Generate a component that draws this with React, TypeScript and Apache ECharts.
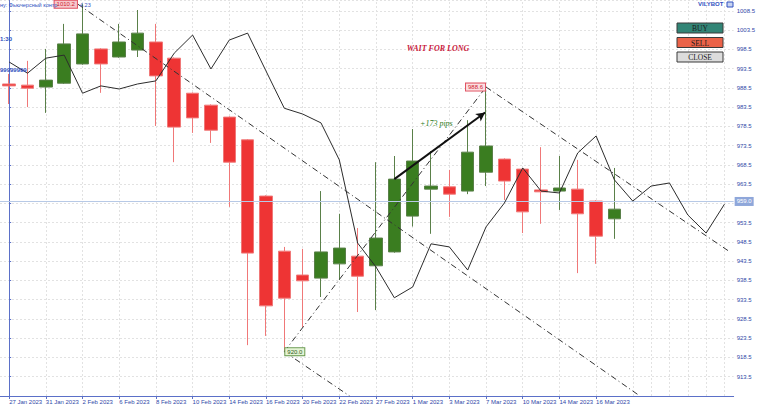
import React, { useEffect, useRef } from "react";
import * as echarts from "echarts";

// ---- data ----
const categories = [
  "27 Jan 2023", "30 Jan 2023", "31 Jan 2023", "1 Feb 2023", "2 Feb 2023", "3 Feb 2023",
  "6 Feb 2023", "7 Feb 2023", "8 Feb 2023", "9 Feb 2023", "10 Feb 2023", "13 Feb 2023",
  "14 Feb 2023", "15 Feb 2023", "16 Feb 2023", "17 Feb 2023", "20 Feb 2023", "21 Feb 2023",
  "22 Feb 2023", "24 Feb 2023", "27 Feb 2023", "28 Feb 2023", "1 Mar 2023", "2 Mar 2023",
  "3 Mar 2023", "6 Mar 2023", "7 Mar 2023", "9 Mar 2023", "10 Mar 2023", "13 Mar 2023",
  "14 Mar 2023", "15 Mar 2023", "16 Mar 2023", "17 Mar 2023",
  "20 Mar 2023", "21 Mar 2023", "22 Mar 2023", "23 Mar 2023", "24 Mar 2023", "27 Mar 2023",
];
const lastCandleIndex = 33;

// [open, close, low, high]
const candles = [
  [989.5, 989.0, 984.3, 992.1],
  [989.2, 988.4, 983.5, 995.5],
  [988.7, 990.5, 982.0, 998.6],
  [989.7, 999.9, 989.5, 1005.1],
  [994.7, 1002.5, 994.5, 1010.2],
  [998.6, 994.7, 987.2, 998.8],
  [996.5, 1000.4, 996.3, 1005.1],
  [998.3, 1002.7, 996.5, 1008.7],
  [1000.4, 991.6, 978.6, 1005.1],
  [996.2, 978.3, 969.2, 996.4],
  [987.1, 980.7, 976.8, 987.3],
  [984.0, 977.5, 974.2, 984.2],
  [980.9, 969.2, 957.6, 981.1],
  [975.0, 945.6, 921.7, 975.2],
  [960.4, 931.9, 924.1, 960.6],
  [946.1, 933.9, 920.0, 947.2],
  [939.9, 938.4, 926.4, 946.7],
  [939.1, 945.9, 934.2, 961.7],
  [942.8, 946.9, 938.6, 955.8],
  [944.8, 939.6, 930.3, 952.1],
  [942.3, 949.5, 930.8, 969.2],
  [945.9, 964.8, 945.7, 970.8],
  [955.2, 969.5, 952.5, 977.8],
  [962.2, 963.0, 950.6, 972.1],
  [962.8, 960.9, 955.0, 967.2],
  [961.7, 971.8, 960.9, 980.1],
  [966.6, 973.4, 963.0, 988.7],
  [970.0, 964.3, 959.4, 970.2],
  [967.4, 956.3, 950.8, 967.6],
  [962.0, 961.5, 953.2, 973.1],
  [961.7, 962.5, 956.8, 970.8],
  [962.2, 955.8, 940.4, 969.8],
  [959.1, 950.0, 942.8, 959.3],
  [954.5, 957.0, 949.3, 967.7],
];

const forecast = [
  995.2, 992.3, 996.2, 997.0, 987.1, 989.0, 988.2, 989.5, 990.3, 997.5,
  1002.2, 993.4, 1000.9, 1002.7, 992.9, 983.2, 981.7, 979.4, 969.8, 948.2,
  942.0, 934.0, 936.8, 948.0, 947.2, 941.2, 952.4, 958.6, 967.7, 961.7,
  961.2, 971.6, 976.0, 964.6, 959.1, 963.0, 963.8, 955.5, 950.8, 958.3,
];

const priceLevel = 959.0;
const yMin = 908.5;
const yMax = 1011.3;
const yStep = 5;

// trend lines as [barIndex, price] pairs
const trendA = [[3.75, 1010.2], [34.3, 908.8]];
const trendB = [[15, 920.0], [26, 988.7]];
const trendC = [[26, 988.7], [39.3, 945.9]];
const trendD = [[15, 920.0], [18.56, 908.5]];
const arrowMove = [[21, 964.8], [25.95, 982.1]];

const tagHigh1 = { at: [3.75, 1010.2], text: "1010.2" };
const tagLow = { at: [15, 920.0], text: "920.0" };
const tagHigh2 = { at: [26, 988.7], text: "988.6" };

const headerText = "ну: Фьючерсный контр";
const headerTail = "4.23";
const moveText = "+173 pips";
const signalText = "WAIT FOR LONG";
const buttons = ["BUY", "SELL", "CLOSE"];

export default function App() {
  const ref = useRef<HTMLDivElement>(null);

  useEffect(() => {
    if (!ref.current) return;
    const chart = echarts.init(ref.current, null, { renderer: "svg" });

    const gridLineIdx: number[] = [];
    for (let i = 0; i < categories.length; i++) {
      if (i % 2 === 0 || i > lastCandleIndex) gridLineIdx.push(i);
    }

    const dashDot = [6, 3, 1, 3];
    const trendStyle = { color: "#333", width: 1, type: dashDot };
    const axisBlue = "#5b70c8";
    const labelBlue = "#3048a8";

    const tagLabel = (text: string, pos: string, bg: string, border: string, color: string) => ({
      show: true,
      formatter: text,
      position: pos,
      distance: 1,
      fontSize: 6,
      fontFamily: "Liberation Sans",
      color,
      backgroundColor: bg,
      borderColor: border,
      borderWidth: 1,
      padding: [1, 2, 0, 2],
    });

    const trendSeries = (name: string, data: number[][], extra: any = {}) => ({
      name,
      type: "line",
      xAxisIndex: 1,
      data,
      symbol: "none",
      lineStyle: trendStyle,
      silent: true,
      z: 4,
      ...extra,
    });

    const option: any = {
      animation: false,
      backgroundColor: "#ffffff",
      grid: { left: 0, right: 22, top: 0, bottom: 13 },
      xAxis: [
        {
          type: "category",
          data: categories,
          boundaryGap: true,
          axisLine: { show: true, lineStyle: { color: axisBlue, width: 1 } },
          axisTick: {
            show: true,
            alignWithLabel: true,
            length: 3,
            interval: (i: number) => i % 2 === 0 && i <= lastCandleIndex,
            lineStyle: { color: axisBlue },
          },
          axisLabel: {
            interval: (i: number) => i % 2 === 0 && i <= lastCandleIndex,
            align: "left",
            margin: 3,
            fontSize: 6,
            fontFamily: "Liberation Sans",
            color: labelBlue,
          },
          splitLine: { show: false },
        },
        {
          type: "value",
          min: -0.5,
          max: categories.length - 0.5,
          show: false,
          splitLine: { show: false },
        },
      ],
      yAxis: {
        type: "value",
        position: "right",
        min: yMin,
        max: yMax,
        interval: yStep,
        scale: true,
        axisLine: { show: true, lineStyle: { color: axisBlue, width: 1 } },
        axisTick: { show: true, length: 2, lineStyle: { color: axisBlue } },
        axisLabel: {
          showMinLabel: false,
          showMaxLabel: false,
          margin: 3,
          fontSize: 6,
          fontFamily: "Liberation Sans",
          color: labelBlue,
          // the current-price tag covers the nearest tick label
          formatter: (v: number) => (Math.abs(v - priceLevel) < 2.5 ? "" : v.toFixed(1)),
        },
        splitLine: { show: true, lineStyle: { color: "#e2e2e2", type: [2, 2], width: 1 } },
      },
      series: [
        {
          name: "grid",
          type: "line",
          data: [],
          z: 0,
          silent: true,
          markLine: {
            z: 0,
            silent: true,
            symbol: ["none", "none"],
            label: { show: false },
            lineStyle: { color: "#e2e2e2", type: [2, 2], width: 1 },
            data: gridLineIdx.map((i) => ({ xAxis: i })),
          },
        },
        {
          name: "price",
          type: "candlestick",
          data: candles,
          barWidth: 13,
          z: 2,
          itemStyle: {
            color: "#3a7d20",
            color0: "#ee3434",
            borderColor: "#5a8049",
            borderColor0: "#f07878",
            borderWidth: 1,
          },
          markLine: {
            silent: true,
            symbol: ["none", "none"],
            z: 3,
            lineStyle: { color: "#b7c9e6", type: "solid", width: 1 },
            label: {
              show: true,
              position: "end",
              distance: 1,
              formatter: priceLevel.toFixed(1),
              fontSize: 6,
              fontFamily: "Liberation Sans",
              color: "#ffffff",
              backgroundColor: "#8fa7da",
              padding: [2, 2, 1, 2],
            },
            data: [{ yAxis: priceLevel }],
          },
        },
        {
          name: "forecast",
          type: "line",
          data: forecast,
          symbol: "none",
          z: 3,
          lineStyle: { color: "#2c2c2c", width: 1 },
          silent: true,
        },
        trendSeries("trendA", trendA, {
          markPoint: {
            symbol: "circle",
            symbolSize: 0,
            silent: true,
            data: [{ coord: tagHigh1.at, label: tagLabel(tagHigh1.text, "left", "#f6c8cc", "#e05060", "#d02030") }],
          },
        }),
        trendSeries("trendB", trendB, {
          markPoint: {
            symbol: "circle",
            symbolSize: 0,
            silent: true,
            data: [
              { coord: tagLow.at, label: tagLabel(tagLow.text, "right", "#e4f4d4", "#6a9a50", "#2c5a20") },
              { coord: tagHigh2.at, label: tagLabel(tagHigh2.text, "left", "#fbe0e2", "#e05060", "#d02030") },
            ],
          },
          markLine: {
            silent: true,
            symbol: ["none", "arrow"],
            symbolSize: [7, 9],
            z: 6,
            label: { show: false },
            lineStyle: { color: "#111", width: 2, type: "solid" },
            data: [[{ coord: arrowMove[0] }, { coord: arrowMove[1] }]],
          },
        }),
        trendSeries("trendC", trendC),
        trendSeries("trendD", trendD),
      ],
      graphic: [
        {
          type: "text", left: 0, top: 2, z: 10,
          style: { text: headerText, fontSize: 5.5, fontFamily: "Liberation Sans", fill: "#3050c0" },
        },
        {
          type: "text", left: 80, top: 2, z: 10,
          style: { text: headerTail, fontSize: 5.5, fontFamily: "Liberation Sans", fill: "#3050c0" },
        },
        {
          type: "text", left: 0, top: 36, z: 10,
          style: { text: "1:30", fontSize: 6, fontWeight: "bold", fontFamily: "Liberation Sans", fill: "#3050c0" },
        },
        {
          type: "text", left: 0, top: 67, z: 10,
          style: { text: "99999999", fontSize: 6, fontWeight: "bold", fontFamily: "Liberation Sans", fill: "#3050c0" },
        },
        {
          type: "text", left: 698, top: 1, z: 10,
          style: { text: "VILYBOT", fontSize: 6, fontWeight: "bold", fontFamily: "Liberation Sans", fill: "#3050c0" },
        },
        {
          type: "rect", shape: { x: 727, y: 2, width: 6, height: 5 }, z: 10,
          style: { fill: "#c8d4f0", stroke: "#3050c0", lineWidth: 1 },
        },
        ...buttons.flatMap((b, i) => {
          const fills = ["#328576", "#ea6248", "#dcdcdc"];
          const y = 23 + i * 14.5;
          return [
            {
              type: "rect", z: 10,
              shape: { x: 677, y, width: 46, height: 10 },
              style: { fill: fills[i], stroke: "#3a3a3a", lineWidth: 1 },
            },
            {
              type: "text", z: 11, x: 700, y: y + 5.5,
              style: {
                text: b, fontSize: 7.5, fontFamily: "Liberation Serif", fill: "#1a1a1a",
                align: "center", verticalAlign: "middle",
              },
            },
          ];
        }),
        {
          type: "text", z: 10, x: 438, y: 48,
          style: {
            text: signalText, fontSize: 8, fontStyle: "italic", fontWeight: "bold",
            fontFamily: "Liberation Serif", fill: "#c8203c", align: "center", verticalAlign: "middle",
          },
        },
        {
          type: "text", z: 10, x: 420, y: 123,
          style: {
            text: moveText, fontSize: 8, fontStyle: "italic",
            fontFamily: "Liberation Serif", fill: "#2a7a20", align: "left", verticalAlign: "middle",
          },
        },
      ],
    };

    chart.setOption(option);
    return () => chart.dispose();
  }, []);

  return (
    <div
      ref={ref}
      style={{ position: "fixed", left: 0, top: 0, width: 758, height: 409, background: "#fff" }}
    />
  );
}
